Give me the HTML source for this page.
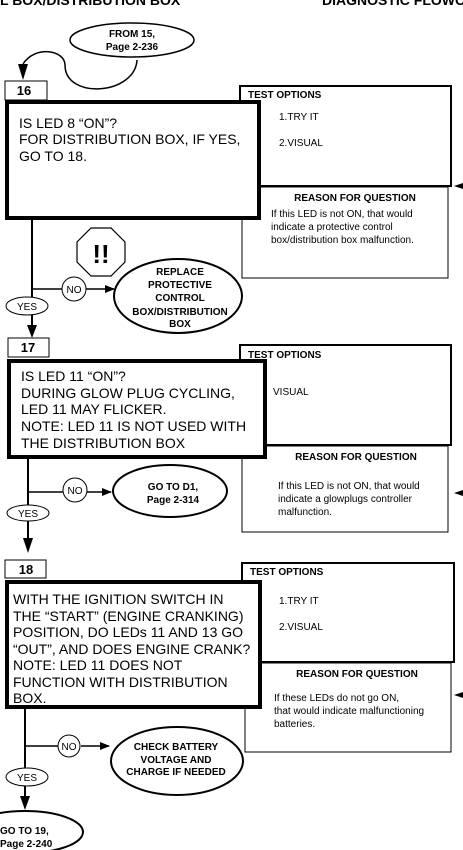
<!DOCTYPE html>
<html><head><meta charset="utf-8"><style>
html,body{margin:0;padding:0;background:#fff;}
svg{display:block;font-family:"Liberation Sans",Arial,sans-serif;}
.b{font-weight:bold;}
</style></head><body>
<svg width="463" height="850" viewBox="0 0 463 850" xmlns="http://www.w3.org/2000/svg">
<defs><marker id="ar" markerWidth="10" markerHeight="8" refX="9" refY="4" orient="auto" markerUnits="userSpaceOnUse"><path d="M0,0 L10,4 L0,8 z" fill="#000"/></marker></defs>
<g fill="#000">
<text x="0" y="5" class="b" font-size="14">L BOX/DISTRIBUTION BOX</text>
<text x="322" y="5" class="b" font-size="14">DIAGNOSTIC FLOWC</text>
</g>
<ellipse cx="132" cy="40" rx="62" ry="17" fill="#fff" stroke="#000" stroke-width="1.5"/>
<text x="132" y="37" text-anchor="middle" class="b" font-size="10">FROM 15,</text>
<text x="132" y="50" text-anchor="middle" class="b" font-size="10">Page 2-236</text>
<path d="M137,60 C135,95 65,100 65,65 C65,50 35,45 23,64" fill="none" stroke="#000" stroke-width="1.5"/>
<path d="M18,64 L23,80 L28,64 z" fill="#000"/>

<!-- 16 -->
<rect x="5" y="81" width="42" height="19" fill="#fff" stroke="#000" stroke-width="1"/>
<text x="24" y="95" class="b" font-size="13" text-anchor="middle">16</text>
<rect x="240" y="86" width="211" height="100" fill="#fff" stroke="#000" stroke-width="2"/>
<rect x="242" y="187" width="206" height="91" fill="#fff" stroke="#000" stroke-width="1"/>
<path d="M454,186 L463,183 L463,189 z" fill="#000"/>
<text x="248" y="98" class="b" font-size="10">TEST OPTIONS</text>
<text x="279" y="120" font-size="10">1.TRY IT</text>
<text x="279" y="146" font-size="10">2.VISUAL</text>
<text x="355" y="201" class="b" font-size="10" text-anchor="middle">REASON FOR QUESTION</text>
<text x="271" y="217" font-size="10">If this LED is not ON, that would</text>
<text x="271" y="230" font-size="10">indicate a protective control</text>
<text x="271" y="243" font-size="10">box/distribution box malfunction.</text>
<rect x="7" y="102" width="252" height="116" fill="#fff" stroke="#000" stroke-width="4"/>
<text x="19" y="128" font-size="14">IS LED 8 “ON”?</text>
<text x="19" y="144" font-size="14">FOR DISTRIBUTION BOX, IF YES,</text>
<text x="19" y="161" font-size="14">GO TO 18.</text>
<line x1="32" y1="220" x2="32" y2="297" stroke="#000" stroke-width="2"/>
<polygon points="91,228 111,228 125,242 125,262 111,276 91,276 77,262 77,242" fill="#fff" stroke="#000" stroke-width="1.2"/>
<text x="101" y="263" class="b" font-size="26" text-anchor="middle">!!</text>
<line x1="32" y1="289" x2="62" y2="289" stroke="#000" stroke-width="1.5"/>
<line x1="86" y1="289" x2="114" y2="289" stroke="#000" stroke-width="1.5" marker-end="url(#ar)"/>
<circle cx="74" cy="289" r="12" fill="#fff" stroke="#000" stroke-width="1"/>
<text x="74" y="293" font-size="10" text-anchor="middle">NO</text>
<ellipse cx="178" cy="296" rx="64" ry="37" fill="#fff" stroke="#000" stroke-width="2"/>
<g class="b" font-size="10" text-anchor="middle">
<text x="180" y="275">REPLACE</text><text x="180" y="288">PROTECTIVE</text><text x="180" y="301">CONTROL</text><text x="180" y="315">BOX/DISTRIBUTION</text><text x="180" y="327">BOX</text></g>
<ellipse cx="27" cy="306" rx="21" ry="9" fill="#fff" stroke="#000" stroke-width="1"/>
<text x="27" y="310" font-size="10" text-anchor="middle">YES</text>
<line x1="32" y1="315" x2="32" y2="327" stroke="#000" stroke-width="2"/>
<path d="M27,325 L32,338 L37,325 z" fill="#000"/>

<!-- 17 -->
<rect x="8" y="338" width="41" height="19" fill="#fff" stroke="#000" stroke-width="1"/>
<text x="28" y="352" class="b" font-size="13" text-anchor="middle">17</text>
<rect x="240" y="345" width="211" height="100" fill="#fff" stroke="#000" stroke-width="2"/>
<rect x="242" y="446" width="206" height="86" fill="#fff" stroke="#000" stroke-width="1"/>
<path d="M454,493 L463,490 L463,496 z" fill="#000"/>
<text x="248" y="358" class="b" font-size="10">TEST OPTIONS</text>
<text x="273" y="395" font-size="10">VISUAL</text>
<text x="356" y="460" class="b" font-size="10" text-anchor="middle">REASON FOR QUESTION</text>
<text x="278" y="489" font-size="10">If this LED is not ON, that would</text>
<text x="278" y="502" font-size="10">indicate a glowplugs controller</text>
<text x="278" y="515" font-size="10">malfunction.</text>
<rect x="9" y="361" width="256" height="96" fill="#fff" stroke="#000" stroke-width="4"/>
<text x="21" y="381" font-size="14">IS LED 11 “ON”?</text>
<text x="21" y="398" font-size="14">DURING GLOW PLUG CYCLING,</text>
<text x="21" y="414" font-size="14">LED 11 MAY FLICKER.</text>
<text x="21" y="431" font-size="14">NOTE: LED 11 IS NOT USED WITH</text>
<text x="21" y="448" font-size="14">THE DISTRIBUTION BOX</text>
<line x1="28" y1="455" x2="28" y2="505" stroke="#000" stroke-width="2"/>
<line x1="28" y1="492" x2="63" y2="492" stroke="#000" stroke-width="1.5"/>
<line x1="87" y1="492" x2="111" y2="492" stroke="#000" stroke-width="1.5" marker-end="url(#ar)"/>
<circle cx="75" cy="490" r="12" fill="#fff" stroke="#000" stroke-width="1"/>
<text x="75" y="494" font-size="10" text-anchor="middle">NO</text>
<ellipse cx="170" cy="491" rx="57" ry="26" fill="#fff" stroke="#000" stroke-width="2"/>
<text x="173" y="490" class="b" font-size="10" text-anchor="middle">GO TO D1,</text>
<text x="173" y="503" class="b" font-size="10" text-anchor="middle">Page 2-314</text>
<ellipse cx="28" cy="513" rx="21" ry="8" fill="#fff" stroke="#000" stroke-width="1"/>
<text x="28" y="517" font-size="10" text-anchor="middle">YES</text>
<line x1="28" y1="521" x2="28" y2="540" stroke="#000" stroke-width="2"/>
<path d="M23,538 L28,553 L33,538 z" fill="#000"/>

<!-- 18 -->
<rect x="5" y="560" width="41" height="18" fill="#fff" stroke="#000" stroke-width="1"/>
<text x="26" y="574" class="b" font-size="13" text-anchor="middle">18</text>
<rect x="242" y="563" width="212" height="99" fill="#fff" stroke="#000" stroke-width="2"/>
<rect x="245" y="663" width="206" height="89" fill="#fff" stroke="#000" stroke-width="1"/>
<path d="M454,695 L463,692 L463,698 z" fill="#000"/>
<text x="250" y="575" class="b" font-size="10">TEST OPTIONS</text>
<text x="279" y="604" font-size="10">1.TRY IT</text>
<text x="279" y="630" font-size="10">2.VISUAL</text>
<text x="357" y="677" class="b" font-size="10" text-anchor="middle">REASON FOR QUESTION</text>
<text x="274" y="701" font-size="10">If these LEDs do not go ON,</text>
<text x="274" y="714" font-size="10">that would indicate malfunctioning</text>
<text x="274" y="727" font-size="10">batteries.</text>
<rect x="7" y="582" width="253" height="125" fill="#fff" stroke="#000" stroke-width="4"/>
<g font-size="14">
<text x="13" y="604">WITH THE IGNITION SWITCH IN</text>
<text x="13" y="621">THE “START” (ENGINE CRANKING)</text>
<text x="13" y="637">POSITION, DO LEDs 11 AND 13 GO</text>
<text x="13" y="654">“OUT”, AND DOES ENGINE CRANK?</text>
<text x="13" y="670">NOTE: LED 11 DOES NOT</text>
<text x="13" y="687">FUNCTION WITH DISTRIBUTION</text>
<text x="13" y="703">BOX.</text></g>
<line x1="25" y1="709" x2="25" y2="770" stroke="#000" stroke-width="2"/>
<line x1="25" y1="746" x2="58" y2="746" stroke="#000" stroke-width="1.5"/>
<line x1="81" y1="746" x2="109" y2="746" stroke="#000" stroke-width="1.5" marker-end="url(#ar)"/>
<circle cx="69" cy="746" r="11" fill="#fff" stroke="#000" stroke-width="1"/>
<text x="69" y="750" font-size="10" text-anchor="middle">NO</text>
<ellipse cx="177" cy="761" rx="66" ry="34" fill="#fff" stroke="#000" stroke-width="2"/>
<g class="b" font-size="10" text-anchor="middle">
<text x="176" y="750">CHECK BATTERY</text><text x="176" y="763">VOLTAGE AND</text><text x="176" y="775">CHARGE IF NEEDED</text></g>
<ellipse cx="27" cy="777" rx="21" ry="9" fill="#fff" stroke="#000" stroke-width="1"/>
<text x="27" y="781" font-size="10" text-anchor="middle">YES</text>
<line x1="25" y1="786" x2="25" y2="798" stroke="#000" stroke-width="2"/>
<path d="M20,796 L25,810 L30,796 z" fill="#000"/>
<ellipse cx="25" cy="832" rx="58" ry="21" fill="#fff" stroke="#000" stroke-width="2"/>
<text x="0" y="834" class="b" font-size="10">GO TO 19,</text>
<text x="0" y="847" class="b" font-size="10">Page 2-240</text>
</svg>
</body></html>
